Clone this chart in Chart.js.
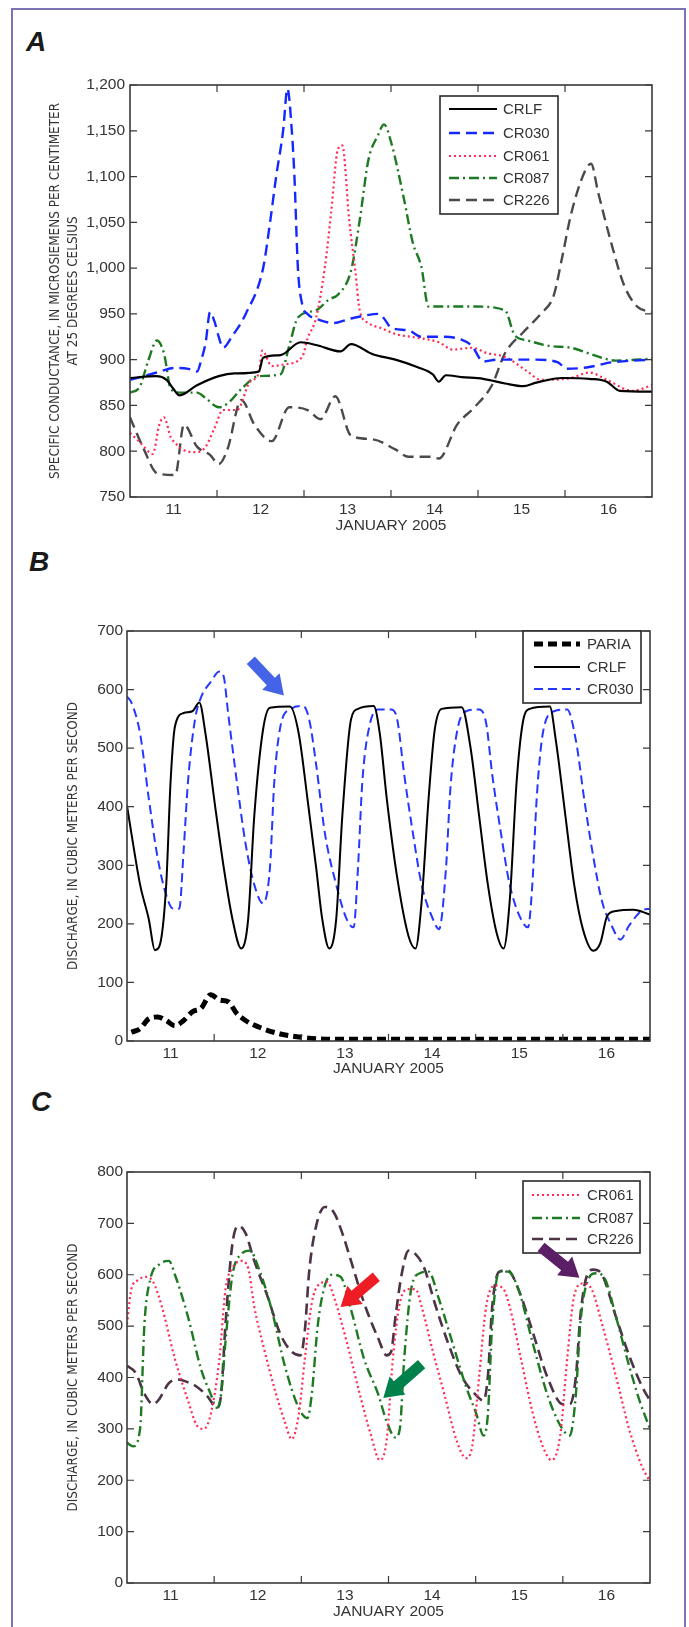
<!DOCTYPE html>
<html>
<head>
<meta charset="utf-8">
<script src="https://cdn.jsdelivr.net/npm/chart.js@4.4.0/dist/chart.umd.min.js"></script>
<style>
  html, body { margin: 0; padding: 0; background: #fff; }
  body { width: 689px; height: 1627px; position: relative; overflow: hidden; }
  .frame { position: absolute; left: 11px; top: 8px; width: 671px; height: 1660px; border: 2px solid #7b74b4; }
  .tag { position: absolute; font: italic bold 28px "Liberation Sans", Arial, sans-serif; line-height: 28px; color: #1a1a1a; }
  canvas { position: absolute; left: 0; }
</style>
</head>
<body>
<div class="frame"></div>
<div class="tag" style="left:26px;top:28px">A</div>
<div class="tag" style="left:29px;top:548px">B</div>
<div class="tag" style="left:31px;top:1088px">C</div>
<canvas id="chartA" width="689" height="545" style="top:0"></canvas>
<canvas id="chartB" width="689" height="540" style="top:545px"></canvas>
<canvas id="chartC" width="689" height="542" style="top:1085px"></canvas>
<script>
// x axis: days since 00:00 on January 11, 2005
const dayLabels = ['11', '12', '13', '14', '15', '16'];
const dayBounds = [1, 2, 3, 4, 5];
const condTicks = [750, 800, 850, 900, 950, 1000, 1050, 1100, 1150, 1200];
const flowTicksB = [0, 100, 200, 300, 400, 500, 600, 700];
const flowTicksC = [0, 100, 200, 300, 400, 500, 600, 700, 800];

// --- A: specific conductance ---
const aCrlfT = [0, 0.3, 0.42, 0.5, 0.57, 0.77, 1.02, 1.2, 1.48, 1.53, 1.73, 1.96, 2.14, 2.42, 2.54, 2.79, 3.05, 3.3, 3.48, 3.55, 3.63, 3.81, 4.06, 4.31, 4.52, 4.67, 4.97, 5.28, 5.48, 5.63, 6];
const aCrlfV = [880, 882, 878, 868, 861, 872, 882, 885, 887, 902, 905, 919, 916, 909, 917, 906, 900, 892, 884, 876, 883, 881, 879, 874, 871, 875, 880, 879, 876, 866, 865];
const aCr030T = [0, 0.16, 0.31, 0.52, 0.67, 0.77, 0.82, 0.87, 0.92, 0.97, 1.02, 1.07, 1.17, 1.33, 1.53, 1.61, 1.68, 1.76, 1.81, 1.86, 1.89, 1.93, 1.98, 2.04, 2.19, 2.34, 2.54, 2.69, 2.85, 2.92, 3.0, 3.2, 3.35, 3.55, 3.81, 3.93, 4.06, 4.21, 4.67, 4.92, 5.02, 5.28, 5.53, 6];
const aCr030V = [878, 882, 886, 891, 890, 887, 900, 919, 952, 942, 925, 913, 925, 950, 1000, 1050, 1100, 1150, 1196, 1150, 1100, 1000, 960, 950, 943, 940, 945, 948, 950, 945, 935, 932, 925, 925, 922, 915, 898, 900, 900, 897, 890, 892, 897, 900];
const aCr061T = [0, 0.09, 0.16, 0.26, 0.34, 0.39, 0.47, 0.52, 0.62, 0.77, 0.87, 0.97, 1.07, 1.23, 1.38, 1.48, 1.52, 1.63, 1.78, 1.98, 2.04, 2.14, 2.24, 2.31, 2.39, 2.44, 2.52, 2.59, 2.64, 2.74, 2.9, 3.05, 3.3, 3.55, 3.71, 3.93, 4.11, 4.31, 4.57, 4.72, 5.07, 5.28, 5.48, 5.78, 6];
const aCr061V = [820, 812, 805, 797, 830, 837, 815, 809, 801, 799, 805, 825, 845, 845, 876, 885, 910, 893, 895, 903, 923, 946, 1001, 1059, 1130, 1134, 1052, 997, 954, 940, 934, 928, 924, 919, 911, 913, 907, 903, 887, 878, 880, 886, 878, 866, 872];
const aCr087T = [0, 0.11, 0.21, 0.31, 0.39, 0.47, 0.57, 0.77, 0.87, 1.02, 1.12, 1.28, 1.48, 1.73, 1.83, 1.93, 2.14, 2.29, 2.39, 2.54, 2.64, 2.74, 2.85, 2.92, 3.0, 3.15, 3.25, 3.35, 3.43, 3.55, 3.96, 4.31, 4.42, 4.57, 4.82, 5.07, 5.33, 5.58, 6];
const aCr087V = [864, 870, 899, 921, 907, 868, 864, 864, 858, 848, 852, 868, 882, 884, 915, 946, 954, 966, 971, 997, 1052, 1118, 1145, 1157, 1138, 1075, 1028, 1001, 958, 958, 958, 954, 927, 921, 915, 913, 905, 899, 901];
const aCr226T = [0, 0.16, 0.31, 0.52, 0.62, 0.77, 0.92, 1.02, 1.12, 1.28, 1.43, 1.63, 1.83, 2.04, 2.19, 2.36, 2.54, 2.79, 3.05, 3.2, 3.45, 3.55, 3.76, 3.96, 4.16, 4.31, 4.52, 4.72, 4.87, 4.97, 5.07, 5.23, 5.3, 5.38, 5.53, 5.68, 5.83, 6];
const aCr226V = [837, 802, 776, 774, 829, 805, 796, 786, 802, 856, 829, 811, 848, 845, 835, 860, 817, 813, 802, 794, 794, 792, 829, 848, 872, 907, 930, 950, 970, 1013, 1059, 1106, 1114, 1083, 1028, 981, 958, 952];

// --- B: discharge, Paria, Lees Ferry and RM 30 ---
const bPariaT = [0.05, 0.15, 0.25, 0.35, 0.45, 0.55, 0.65, 0.75, 0.85, 0.96, 1.06, 1.16, 1.26, 1.36, 1.56, 1.76, 1.97, 2.17, 2.37, 6];
const bPariaV = [15, 21, 38, 41, 35, 26, 35, 50, 56, 79, 70, 67, 47, 35, 21, 12, 7, 4, 3, 3];
const bCrlfT = [0, 0.05, 0.15, 0.25, 0.32, 0.37, 0.45, 0.5, 0.55, 0.65, 0.75, 0.83, 0.9, 1.01, 1.11, 1.21, 1.31, 1.39, 1.46, 1.56, 1.64, 1.87, 1.97, 2.07, 2.17, 2.24, 2.32, 2.4, 2.47, 2.57, 2.65, 2.83, 2.9, 2.98, 3.1, 3.23, 3.31, 3.38, 3.46, 3.53, 3.61, 3.84, 3.94, 4.04, 4.14, 4.24, 4.32, 4.39, 4.47, 4.54, 4.62, 4.85, 4.92, 5.03, 5.13, 5.23, 5.35, 5.43, 5.51, 5.61, 5.81, 6];
const bCrlfV = [402, 355, 267, 208, 155, 161, 267, 443, 537, 560, 563, 578, 525, 402, 296, 208, 158, 208, 384, 531, 569, 571, 525, 414, 296, 208, 158, 208, 384, 549, 567, 572, 525, 414, 279, 179, 158, 238, 414, 531, 567, 570, 502, 384, 267, 185, 158, 238, 443, 543, 567, 571, 513, 384, 267, 191, 154, 167, 214, 222, 224, 216];
const bCr030T = [0, 0.05, 0.15, 0.25, 0.35, 0.45, 0.53, 0.6, 0.65, 0.7, 0.78, 0.85, 0.96, 1.06, 1.11, 1.16, 1.26, 1.36, 1.46, 1.56, 1.64, 1.69, 1.76, 1.87, 2.02, 2.09, 2.17, 2.27, 2.4, 2.52, 2.6, 2.65, 2.7, 2.78, 2.88, 3.03, 3.1, 3.18, 3.28, 3.38, 3.51, 3.58, 3.66, 3.71, 3.79, 3.89, 4.04, 4.12, 4.19, 4.29, 4.39, 4.52, 4.6, 4.65, 4.7, 4.77, 4.9, 5.05, 5.15, 5.25, 5.35, 5.45, 5.56, 5.66, 5.76, 5.91, 6];
const bCr030V = [588, 578, 525, 414, 314, 249, 226, 226, 326, 443, 549, 587, 613, 631, 622, 560, 443, 337, 267, 235, 296, 443, 537, 566, 572, 549, 472, 355, 267, 208, 194, 296, 443, 537, 566, 566, 549, 455, 355, 267, 208, 191, 296, 431, 531, 563, 566, 543, 455, 355, 267, 208, 194, 267, 414, 525, 563, 566, 513, 408, 314, 238, 197, 173, 197, 223, 226];

// --- C: discharge, RM 61, RM 87 and RM 226 ---
const cCr061T = [0, 0.05, 0.12, 0.22, 0.3, 0.4, 0.55, 0.7, 0.8, 0.88, 0.96, 1.06, 1.13, 1.21, 1.31, 1.39, 1.46, 1.56, 1.71, 1.81, 1.89, 1.97, 2.04, 2.12, 2.19, 2.3, 2.37, 2.52, 2.67, 2.8, 2.9, 2.98, 3.05, 3.13, 3.23, 3.31, 3.38, 3.51, 3.64, 3.79, 3.89, 3.96, 4.04, 4.12, 4.22, 4.32, 4.39, 4.52, 4.65, 4.77, 4.87, 4.97, 5.05, 5.13, 5.23, 5.33, 5.45, 5.61, 5.76, 5.91, 6];
const cCr061V = [504, 572, 589, 596, 586, 538, 436, 355, 307, 300, 328, 436, 572, 613, 627, 613, 538, 464, 368, 314, 280, 328, 436, 545, 579, 586, 559, 470, 368, 287, 239, 280, 436, 545, 572, 572, 538, 450, 368, 273, 243, 266, 402, 538, 579, 572, 538, 436, 334, 266, 239, 287, 436, 559, 583, 572, 504, 402, 300, 226, 198];
const cCr087T = [0, 0.07, 0.15, 0.2, 0.27, 0.37, 0.48, 0.55, 0.7, 0.85, 0.96, 1.03, 1.08, 1.13, 1.21, 1.31, 1.41, 1.51, 1.66, 1.81, 1.97, 2.07, 2.12, 2.19, 2.27, 2.35, 2.45, 2.57, 2.72, 2.88, 2.98, 3.08, 3.13, 3.18, 3.26, 3.36, 3.46, 3.58, 3.74, 3.89, 4.01, 4.09, 4.14, 4.19, 4.27, 4.37, 4.49, 4.65, 4.82, 4.97, 5.08, 5.15, 5.2, 5.28, 5.38, 5.48, 5.61, 5.76, 5.88, 6];
const cCr087V = [273, 266, 300, 504, 593, 620, 627, 600, 518, 416, 368, 341, 368, 470, 600, 640, 647, 613, 532, 423, 341, 321, 368, 504, 579, 600, 596, 532, 436, 368, 314, 283, 300, 436, 572, 603, 606, 552, 464, 382, 328, 287, 328, 504, 606, 606, 572, 470, 368, 307, 287, 368, 504, 586, 603, 593, 518, 423, 355, 300];
const cCr226T = [0, 0.1, 0.2, 0.3, 0.37, 0.48, 0.58, 0.68, 0.8, 0.93, 1.03, 1.08, 1.13, 1.21, 1.28, 1.36, 1.46, 1.61, 1.76, 1.89, 1.99, 2.04, 2.09, 2.17, 2.27, 2.37, 2.47, 2.57, 2.72, 2.88, 2.98, 3.03, 3.08, 3.15, 3.23, 3.31, 3.41, 3.53, 3.69, 3.84, 3.99, 4.09, 4.14, 4.19, 4.27, 4.37, 4.49, 4.65, 4.82, 5.0, 5.08, 5.15, 5.2, 5.28, 5.35, 5.45, 5.61, 5.76, 5.91, 6];
const cCr226V = [423, 409, 368, 348, 358, 389, 396, 392, 382, 362, 341, 368, 504, 661, 695, 681, 627, 559, 484, 450, 443, 491, 606, 695, 732, 722, 681, 627, 545, 477, 443, 450, 518, 600, 647, 640, 613, 545, 464, 402, 368, 355, 402, 538, 606, 608, 572, 491, 402, 348, 348, 402, 518, 600, 610, 600, 518, 443, 382, 355];

// callout arrows: [tail day, tail value, tip day, tip value]
const arrowB = [[1.42, 650, 1.80, 590]];
const arrowC = [[2.86, 596, 2.45, 537], [3.38, 426, 2.94, 360], [4.75, 654, 5.19, 594]];
const arrowColorsB = ['#4463e6'];
const arrowColorsC = ['#ee1c24', '#00804a', '#5b1f66'];

const pts = (t, v) => t.map((x, i) => ({ x: x, y: v[i] }));
const tickFont = { family: '"Liberation Sans", Arial, sans-serif', size: 15.5 };
const narrow = '"Liberation Sans Narrow", "Arial Narrow", "DejaVu Sans Condensed", sans-serif';
const ink = '#333';

function line(label, t, v, color, width, dash) {
  return { label, data: pts(t, v), borderColor: color, borderWidth: width, borderDash: dash || [], fill: false, pointRadius: 0 };
}

// plot box plus inward ticks on all four sides
const boxTicks = {
  id: 'boxTicks',
  afterDraw(chart) {
    const { ctx, chartArea: a, scales: { x, y } } = chart;
    ctx.save();
    ctx.strokeStyle = '#3a3a3a';
    ctx.lineWidth = 1.6;
    ctx.strokeRect(a.left, a.top, a.width, a.height);
    ctx.lineWidth = 1.2;
    ctx.beginPath();
    dayBounds.forEach(d => {
      const px = x.getPixelForValue(d);
      ctx.moveTo(px, a.bottom); ctx.lineTo(px, a.bottom - 7);
      ctx.moveTo(px, a.top); ctx.lineTo(px, a.top + 7);
    });
    y.ticks.forEach(t => {
      const py = y.getPixelForValue(t.value);
      ctx.moveTo(a.left, py); ctx.lineTo(a.left + 7, py);
      ctx.moveTo(a.right, py); ctx.lineTo(a.right - 7, py);
    });
    ctx.stroke();
    ctx.restore();
  }
};

function boxLegend(cfg) {
  return {
    id: 'boxLegend',
    afterDraw(chart) {
      const ctx = chart.ctx;
      const [l, t, r, b] = cfg.box;
      ctx.save();
      ctx.fillStyle = '#fff';
      ctx.fillRect(l, t, r - l, b - t);
      ctx.strokeStyle = '#2a2a2a';
      ctx.lineWidth = 1.6;
      ctx.strokeRect(l, t, r - l, b - t);
      ctx.font = '15px "Liberation Sans", Arial, sans-serif';
      ctx.textBaseline = 'middle';
      chart.data.datasets.forEach((ds, i) => {
        const yy = cfg.rows[i];
        ctx.strokeStyle = ds.borderColor;
        ctx.lineWidth = ds.borderWidth;
        ctx.setLineDash(ds.borderDash);
        ctx.beginPath();
        ctx.moveTo(cfg.lineX[0], yy); ctx.lineTo(cfg.lineX[1], yy);
        ctx.stroke();
        ctx.setLineDash([]);
        ctx.fillStyle = ink;
        ctx.fillText(ds.label, cfg.textX, yy + 1);
      });
      ctx.restore();
    }
  };
}

function arrows(list, colors) {
  return {
    id: 'arrows',
    afterDraw(chart) {
      const { ctx, scales: { x, y } } = chart;
      list.forEach((a, i) => {
        const x0 = x.getPixelForValue(a[0]), y0 = y.getPixelForValue(a[1]);
        const x1 = x.getPixelForValue(a[2]), y1 = y.getPixelForValue(a[3]);
        const len = Math.hypot(x1 - x0, y1 - y0);
        const head = 19, hw = 12, sw = 5.5;
        ctx.save();
        ctx.translate(x0, y0);
        ctx.rotate(Math.atan2(y1 - y0, x1 - x0));
        ctx.beginPath();
        ctx.moveTo(0, -sw); ctx.lineTo(len - head, -sw); ctx.lineTo(len - head, -hw);
        ctx.lineTo(len, 0); ctx.lineTo(len - head, hw); ctx.lineTo(len - head, sw);
        ctx.lineTo(0, sw); ctx.closePath();
        ctx.fillStyle = colors[i];
        ctx.fill();
        ctx.restore();
      });
    }
  };
}

function panel(id, p) {
  return new Chart(document.getElementById(id), {
    type: 'line',
    data: { datasets: p.datasets },
    options: {
      responsive: false,
      animation: false,
      devicePixelRatio: 1,
      layout: { padding: p.pad },
      elements: { line: { cubicInterpolationMode: 'monotone' } },
      plugins: { legend: { display: false }, tooltip: { enabled: false } },
      scales: {
        x: {
          type: 'linear', min: 0, max: 6,
          afterBuildTicks: s => { s.ticks = dayLabels.map((_, i) => ({ value: i + 0.5 })); },
          afterFit: s => { s.height = p.xh; },
          grid: { display: false, drawTicks: false },
          border: { display: false },
          ticks: { padding: 3, color: ink, font: tickFont, maxRotation: 0, autoSkip: false,
                   callback: v => dayLabels[Math.floor(v)] },
          title: { display: true, text: 'JANUARY 2005', color: ink,
                   font: { family: tickFont.family, size: 15.5, lineHeight: 1.2 },
                   padding: { top: 0, bottom: p.xtp } }
        },
        y: {
          type: 'linear', min: p.ticks[0], max: p.ticks[p.ticks.length - 1],
          afterBuildTicks: s => { s.ticks = p.ticks.map(v => ({ value: v })); },
          afterFit: s => { s.width = p.yw; },
          grid: { display: false, drawTicks: false },
          border: { display: false },
          ticks: { padding: p.ytp, color: ink, font: tickFont,
                   callback: v => v.toLocaleString('en-US') },
          title: { display: true, text: p.yTitle, color: ink,
                   font: { family: narrow, size: 13.4, lineHeight: 1.36 },
                   padding: { top: p.ytitlePad, bottom: 0 } }
        }
      }
    },
    plugins: [boxTicks, boxLegend(p.legend), arrows(p.arrows, p.arrowColors)]
  });
}

const dashDot = [10, 4, 2, 4];

panel('chartA', {
  datasets: [
    line('CRLF', aCrlfT, aCrlfV, '#000', 2.2),
    line('CR030', aCr030T, aCr030V, '#1428ff', 2.4, [11, 6]),
    line('CR061', aCr061T, aCr061V, '#ff2a55', 2.2, [2, 3]),
    line('CR087', aCr087T, aCr087V, '#1d7a23', 2.4, dashDot),
    line('CR226', aCr226T, aCr226V, '#4a4a4a', 2.4, [11, 6])
  ],
  pad: { left: 0, top: 85, right: 37, bottom: 0 },
  xh: 48, xtp: 9.7, yw: 130, ytp: 5, ytitlePad: 46,
  ticks: condTicks,
  yTitle: ['SPECIFIC CONDUCTANCE, IN MICROSIEMENS PER CENTIMETER', 'AT 25 DEGREES CELSIUS'],
  legend: { box: [440, 96, 558, 214], rows: [109, 133, 156, 178, 200], lineX: [449, 497], textX: 503 },
  arrows: [], arrowColors: []
});

panel('chartB', {
  datasets: [
    line('PARIA', bPariaT, bPariaV, '#000', 5, [9, 5]),
    line('CRLF', bCrlfT, bCrlfV, '#000', 2),
    line('CR030', bCr030T, bCr030V, '#2638ff', 2, [9, 5])
  ],
  pad: { left: 0, top: 86, right: 39, bottom: 0 },
  xh: 44, xtp: 7.1, yw: 127, ytp: 4, ytitlePad: 64,
  ticks: flowTicksB,
  yTitle: 'DISCHARGE, IN CUBIC METERS PER SECOND',
  legend: { box: [523, 86, 641, 158], rows: [99, 122, 144], lineX: [534, 580], textX: 587 },
  arrows: arrowB, arrowColors: arrowColorsB
});

panel('chartC', {
  datasets: [
    line('CR061', cCr061T, cCr061V, '#ff2a55', 2.2, [2, 3]),
    line('CR087', cCr087T, cCr087V, '#1d7a23', 2.4, dashDot),
    line('CR226', cCr226T, cCr226V, '#4d3346', 2.6, [11, 6])
  ],
  pad: { left: 0, top: 87, right: 39, bottom: 0 },
  xh: 44, xtp: 5.7, yw: 127, ytp: 4, ytitlePad: 64,
  ticks: flowTicksC,
  yTitle: 'DISCHARGE, IN CUBIC METERS PER SECOND',
  legend: { box: [523, 96, 640, 168], rows: [110, 133, 154], lineX: [532, 580], textX: 587 },
  arrows: arrowC, arrowColors: arrowColorsC
});
</script>
</body>
</html>
